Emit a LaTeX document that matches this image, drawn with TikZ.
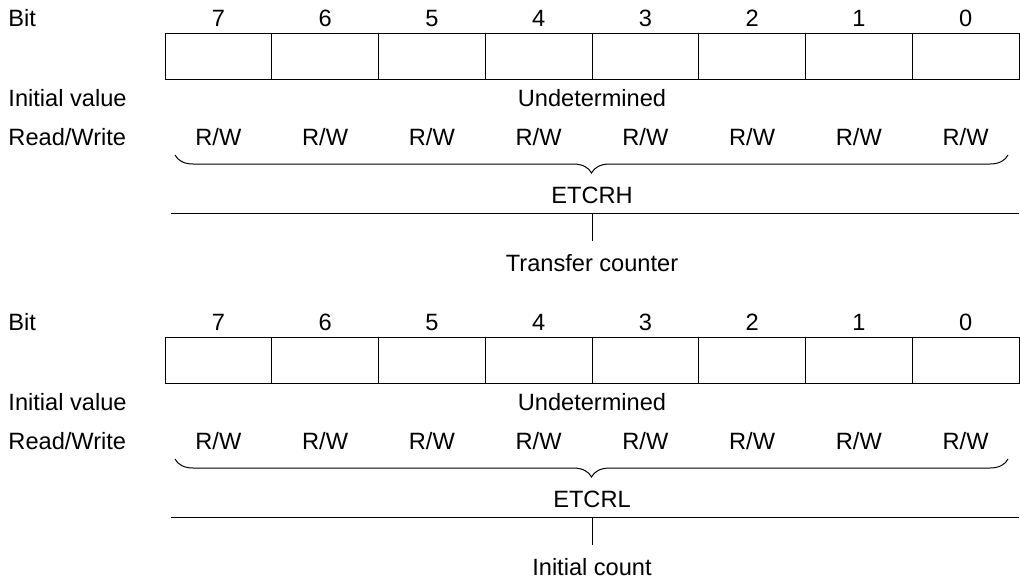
\documentclass[tikz,border=0pt]{standalone}
\usepackage{fontspec}
\setmainfont{Liberation Sans}
\usetikzlibrary{decorations.pathreplacing}

\tikzset{
  cell/.style={draw,minimum width=53.375pt,minimum height=23pt,inner sep=0pt},
  lbl/.style={anchor=base,inner sep=0pt},
  rowhead/.style={anchor=base west,inner sep=0pt},
  regbrace/.style={decorate,decoration={brace,mirror,amplitude=9pt}},
}

\begin{document}
\begin{tikzpicture}[x=0.5pt,y=-0.5pt,font=\fontsize{11.8}{14}\selectfont,line width=0.5pt]
  \useasboundingbox (0,0) rectangle (1020,578);

  \foreach \reg/\what/\dy in {ETCRH/Transfer counter/0,ETCRL/Initial count/304}{
    \begin{scope}[shift={(0,\dy)}]
      % row headings
      \node[rowhead] (bit-\reg) at (8,26) {Bit};
      \node[rowhead] (init-\reg) at (8,106) {Initial value};
      \node[rowhead] (rw-\reg) at (8,145) {Read/Write};

      % bit cells
      \foreach \b in {0,...,7}{
        \node[cell] (cell-\reg-\b) at ({218.375+(7-\b)*106.75},56) {};
        \node[lbl] (num-\reg-\b) at ({218.375+(7-\b)*106.75},26) {\b};
        \node[lbl] (acc-\reg-\b) at ({218.375+(7-\b)*106.75},145) {R/W};
      }
      \node[lbl] (undet-\reg) at (592,106) {Undetermined};

      % brace and register name
      \coordinate (brace-l-\reg) at (175,155);
      \coordinate (brace-r-\reg) at (1008,155);
      \draw[regbrace] (brace-l-\reg) -- (brace-r-\reg);
      \node[lbl] (name-\reg) at (592,203) {\reg};

      % rule and description
      \coordinate (rule-l-\reg) at (171,213);
      \coordinate (rule-r-\reg) at (1019,213);
      \coordinate (rule-m-\reg) at (592,213);
      \draw (rule-l-\reg) -- (rule-r-\reg);
      \node[anchor=base,inner sep=6pt] (desc-\reg) at (592,271) {\what};
      \draw (rule-m-\reg) -- (desc-\reg.north);
    \end{scope}
  }
\end{tikzpicture}
\end{document}
